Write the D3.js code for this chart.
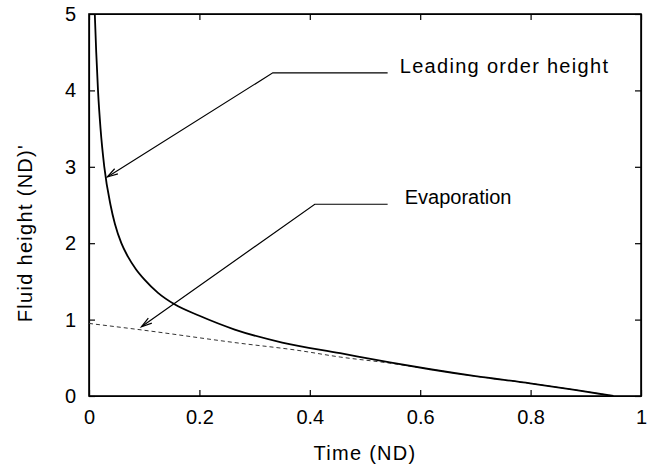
<!doctype html>
<html>
<head>
    <style>
        body {
            margin: 0;
            background: #fff;
        }

        svg {
            display: block;
        }

        text {
            font-family: 'Liberation Sans', Arial, sans-serif;
            font-size: 20px;
            fill: #000;
        }

        text.wide {
            letter-spacing: 1.3px;
        }

        .axis path, .axis line {
            stroke: #000;
            stroke-width: 1.2;
        }

        .frame {
            fill: none;
            stroke: #000;
            stroke-width: 1.6;
        }

        .height {
            fill: none;
            stroke: #000;
            stroke-width: 1.8;
        }

        .evap {
            fill: none;
            stroke: #333;
            stroke-width: 1;
            stroke-dasharray: 4 3;
        }

        .note {
            fill: none;
            stroke: #000;
            stroke-width: 1.2;
        }
    </style>
    <script src="https://d3js.org/d3.v7.min.js"></script>
</head>
<body>
<svg width="647" height="469"></svg>
<script>
    // values
    const xTicks = [0, 0.2, 0.4, 0.6, 0.8, 1];
    const xTickLabels = ['0', '0.2', '0.4', '0.6', '0.8', '1'];
    const yTicks = [0, 1, 2, 3, 4, 5];
    const yTickLabels = ['0', '1', '2', '3', '4', '5'];

    // leading order height (solid)
    const heightT = [0.0105, 0.0131, 0.0163, 0.0209, 0.0277, 0.039, 0.047, 0.0586, 0.07, 0.085, 0.101, 0.125, 0.155, 0.2, 0.264, 0.35, 0.455, 0.545, 0.618, 0.7, 0.799, 0.88, 0.95];
    const heightH = [5.0, 4.5, 4.0, 3.5, 3.0, 2.5, 2.25, 2.0, 1.83, 1.66, 1.52, 1.35, 1.2, 1.05, 0.87, 0.70, 0.56, 0.44, 0.35, 0.26, 0.166, 0.08, 0.0];

    // evaporation (dashed)
    const evapT = [0, 0.095, 0.274, 0.376, 0.455, 0.545, 0.618, 0.7, 0.799, 0.88, 0.95];
    const evapH = [0.95, 0.865, 0.69, 0.60, 0.51, 0.43, 0.35, 0.26, 0.166, 0.08, 0.0];

    // annotations: label, text anchor point, elbow, arrow tip (data units)
    const notes = [
        {label: 'Leading order height', wide: true, text: [0.563, 4.23], end: [0.541, 4.23], elbow: [0.333, 4.23], tip: [0.0332, 2.867]},
        {label: 'Evaporation', wide: false, text: [0.572, 2.51], end: [0.541, 2.51], elbow: [0.409, 2.51], tip: [0.095, 0.906]}
    ];

    const svg = d3.select('svg');

    const margin = {top: 14, right: 6, bottom: 73, left: 89};
    const width = 647 - margin.left - margin.right;
    const height = 469 - margin.top - margin.bottom;

    const chart = svg.append('g')
        .attr('transform', `translate(${margin.left}, ${margin.top})`);

    const xScale = d3.scaleLinear()
        .domain([0, 1])
        .range([0, width]);

    const yScale = d3.scaleLinear()
        .domain([0, 5])
        .range([height, 0]);

    // axes, ticks pointing inwards, mirrored on top and right
    chart.append('g')
        .attr('class', 'axis')
        .attr('transform', `translate(0, ${height})`)
        .call(d3.axisBottom(xScale)
            .tickValues(xTicks)
            .tickFormat((d, i) => xTickLabels[i])
            .tickSizeInner(-6)
            .tickSizeOuter(0)
            .tickPadding(14));

    chart.append('g')
        .attr('class', 'axis')
        .call(d3.axisTop(xScale)
            .tickValues(xTicks)
            .tickFormat('')
            .tickSizeInner(-6)
            .tickSizeOuter(0));

    chart.append('g')
        .attr('class', 'axis')
        .call(d3.axisLeft(yScale)
            .tickValues(yTicks)
            .tickFormat((d, i) => yTickLabels[i])
            .tickSizeInner(-6)
            .tickSizeOuter(0)
            .tickPadding(13));

    chart.append('g')
        .attr('class', 'axis')
        .attr('transform', `translate(${width}, 0)`)
        .call(d3.axisRight(yScale)
            .tickValues(yTicks)
            .tickFormat('')
            .tickSizeInner(-6)
            .tickSizeOuter(0));

    chart.selectAll('.axis text')
        .style('font-size', '20px')
        .style('font-family', "'Liberation Sans', Arial, sans-serif");

    chart.append('rect')
        .attr('class', 'frame')
        .attr('x', 0)
        .attr('y', 0)
        .attr('width', width)
        .attr('height', height);

    const line = d3.line()
        .x((d) => xScale(d[0]))
        .y((d) => yScale(d[1]))
        .curve(d3.curveMonotoneX);

    chart.append('path')
        .attr('class', 'evap')
        .attr('d', line(evapT.map((t, i) => [t, evapH[i]])));

    chart.append('path')
        .attr('class', 'height')
        .attr('d', line(heightT.map((t, i) => [t, heightH[i]])));

    // annotation arrows
    notes.forEach((n) => {
        const px = (p) => [xScale(p[0]), yScale(p[1])];
        const e = px(n.end), k = px(n.elbow), t = px(n.tip);

        chart.append('path')
            .attr('class', 'note')
            .attr('d', `M${e[0]},${e[1]}L${k[0]},${k[1]}L${t[0]},${t[1]}`);

        const ang = Math.atan2(k[1] - t[1], k[0] - t[0]);
        const len = 11, spread = 0.28;
        const a1 = [t[0] + len * Math.cos(ang + spread), t[1] + len * Math.sin(ang + spread)];
        const a2 = [t[0] + len * Math.cos(ang - spread), t[1] + len * Math.sin(ang - spread)];
        chart.append('path')
            .attr('class', 'note')
            .attr('d', `M${a1[0]},${a1[1]}L${t[0]},${t[1]}L${a2[0]},${a2[1]}`);

        chart.append('text')
            .attr('class', n.wide ? 'wide' : null)
            .attr('x', xScale(n.text[0]))
            .attr('y', yScale(n.text[1]))
            .text(n.label);
    });

    svg.append('text')
        .attr('class', 'wide')
        .attr('x', margin.left + width / 2)
        .attr('y', 460)
        .attr('text-anchor', 'middle')
        .text('Time (ND)');

    svg.append('text')
        .attr('class', 'wide')
        .attr('transform', `translate(32, 233) rotate(-90)`)
        .attr('text-anchor', 'middle')
        .text("Fluid height (ND)'");
</script>
</body>
</html>
